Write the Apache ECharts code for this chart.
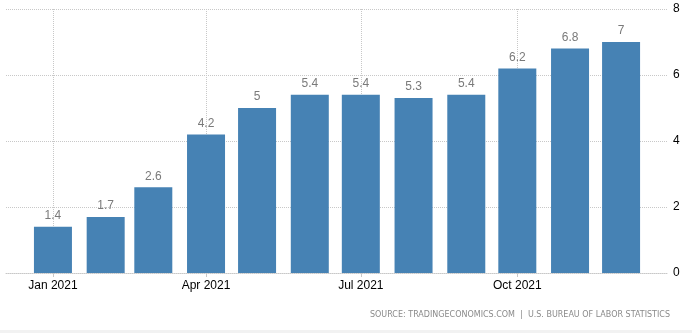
<!DOCTYPE html>
<html><head><meta charset="utf-8">
<script src="https://cdn.jsdelivr.net/npm/echarts@6/dist/echarts.min.js"></script>
<style>html,body{margin:0;padding:0;background:#fff}#c{width:692px;height:333px}</style>
</head><body><div id="c"></div>
<script>
const months = ['2021-01','2021-02','2021-03','2021-04','2021-05','2021-06','2021-07','2021-08','2021-09','2021-10','2021-11','2021-12'];
const values = [1.4,1.7,2.6,4.2,5,5.4,5.4,5.3,5.4,6.2,6.8,7];
const tickMonths = ['2021-01','2021-04','2021-07','2021-10'];
const monthNames = ['Jan','Feb','Mar','Apr','May','Jun','Jul','Aug','Sep','Oct','Nov','Dec'];
const yTicks = [0,2,4,6,8];
const sourceText = 'SOURCE: TRADINGECONOMICS.COM  |  U.S. BUREAU OF LABOR STATISTICS';

function toTs(m){ const [y,mo]=m.split('-').map(Number); return Date.UTC(y,mo-1,1); }
const DAY = 86400000;
const chart = echarts.init(document.getElementById('c'));
const tickVals = tickMonths.map(toTs);
chart.setOption({
  animation:false,
  textStyle:{fontFamily:'Liberation Sans'},
  grid:{left:6,right:25,top:9,bottom:60},
  xAxis:{
    type:'value',
    min: toTs(months[0]) - 27.6*DAY,
    max: toTs(months[months.length-1]) + 27*DAY,
    axisLine:{show:true,lineStyle:{color:'#c8c8c8',type:[1,1]}},
    axisTick:{show:true,length:4,lineStyle:{color:'#c8c8c8'},customValues:tickVals},
    axisLabel:{color:'#000',fontSize:12,margin:7,customValues:tickVals,hideOverlap:false,showMinLabel:true,showMaxLabel:true,
      formatter:function(v){const d=new Date(v);return monthNames[d.getUTCMonth()]+' '+d.getUTCFullYear();}},
    splitLine:{show:true,lineStyle:{color:'#c8c8c8',type:[1,1]}}
  },
  yAxis:{
    type:'value',position:'right',min:0,max:8,interval:2,
    axisLine:{show:false},axisTick:{show:false},
    axisLabel:{color:'#000',fontSize:12,margin:6},
    splitLine:{show:true,lineStyle:{color:'#c8c8c8',type:[1,1]}}
  },
  series:[{
    type:'bar',barWidth:38,
    itemStyle:{color:'#4682b4'},
    label:{show:true,position:'top',distance:5,color:'#7a7a7a',fontSize:12},
    data: months.map((m,i)=>[toTs(m),values[i]])
  }],
  graphic:[
    {type:'text',right:22,top:311,style:{text:sourceText,fill:'#8a8a8a',fontSize:8,fontFamily:'DejaVu Sans'}},
    {type:'rect',left:0,top:330,shape:{width:692,height:3},style:{fill:'#f2f2f2'}}
  ]
});
</script></body></html>
